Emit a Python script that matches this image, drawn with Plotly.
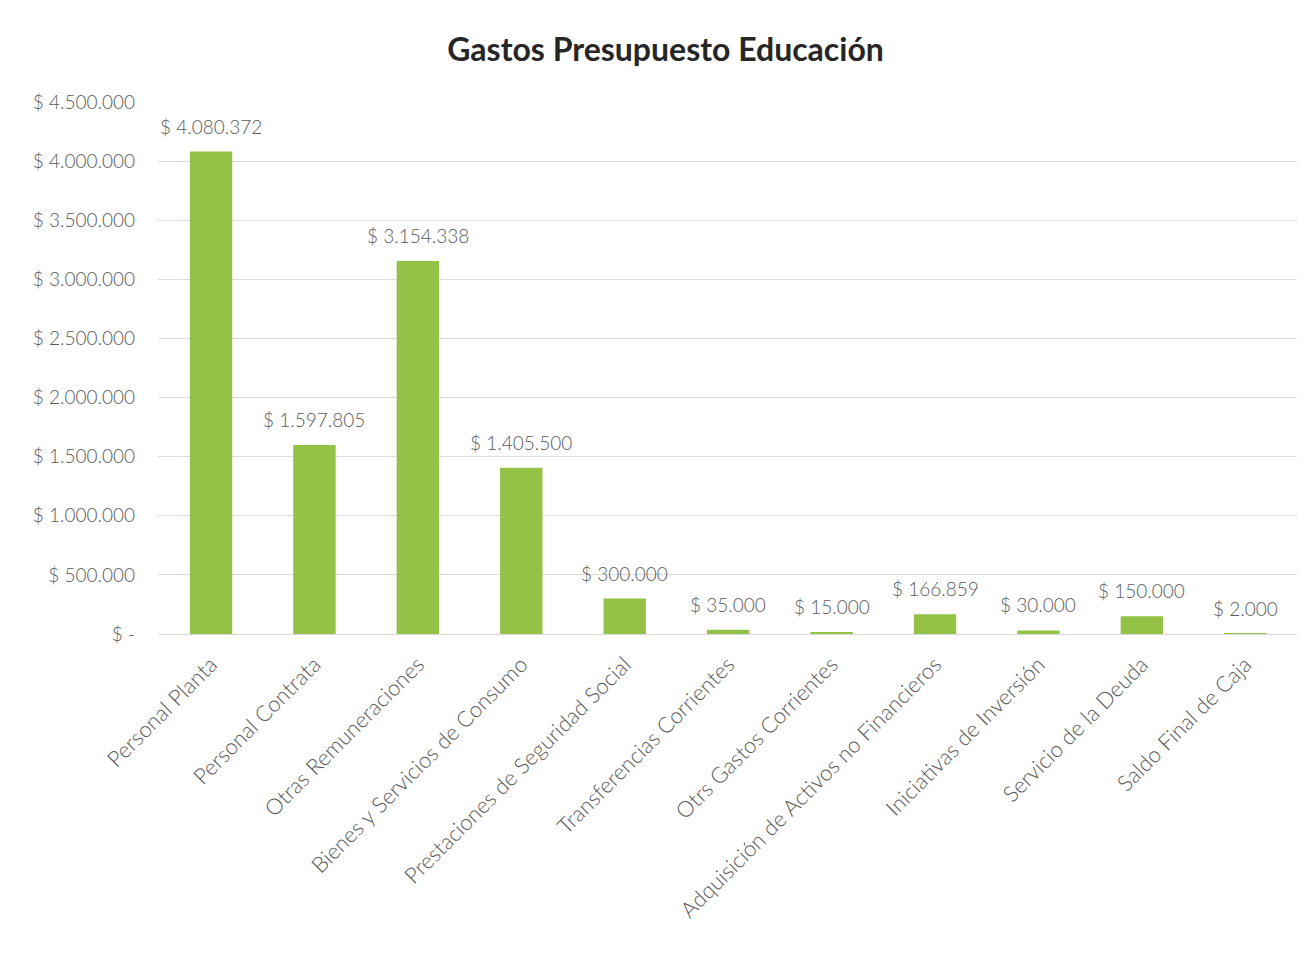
import plotly.graph_objects as go

categories = [
    "Personal Planta", "Personal Contrata", "Otras Remuneraciones",
    "Bienes y Servicios de Consumo", "Prestaciones de Seguridad Social",
    "Transferencias Corrientes", "Otrs Gastos Corrientes",
    "Adquisición de Activos no Financieros", "Iniciativas de Inversión",
    "Servicio de la Deuda", "Saldo Final de Caja",
]
values = [4080372, 1597805, 3154338, 1405500, 300000, 35000, 15000,
          166859, 30000, 150000, 2000]
tick_vals = [0, 500000, 1000000, 1500000, 2000000, 2500000, 3000000,
             3500000, 4000000, 4500000]


def fmt(v):
    if v == 0:
        return "$ -"
    return "$ " + f"{v:,}".replace(",", ".")


tick_text = [fmt(v) for v in tick_vals]
labels = [fmt(v) for v in values]

FONT = "Lato, 'Open Sans', sans-serif"
GREY = "#5a5a5a"

fig = go.Figure(go.Bar(
    x=categories, y=values,
    marker=dict(color="#93c247", line=dict(width=0)),
    cliponaxis=False,
))

for cat, val, lab in zip(categories, values, labels):
    fig.add_annotation(
        x=cat, y=val, text=lab, showarrow=False,
        yanchor="bottom", yshift=12,
        font=dict(size=19, color=GREY, family=FONT, weight=300),
    )

fig.update_layout(
    width=1315, height=953,
    paper_bgcolor="white", plot_bgcolor="white",
    margin=dict(l=150, r=26, t=94, b=327),
    bargap=0.59,
    showlegend=False,
    title=dict(text="<b>Gastos Presupuesto Educación</b>", x=0.5, xref="container",
               y=0.956, yref="container", yanchor="middle",
               font=dict(size=32, color="#262626", family=FONT)),
    font=dict(family=FONT, color=GREY),
)
fig.update_xaxes(
    tickangle=-45, tickfont=dict(size=22, color=GREY, weight=300),
    showline=True, linecolor="#d9d9d9", showgrid=False, ticks="",
    ticklabelstandoff=8,
)
fig.update_yaxes(
    range=[0, 4500000], tickvals=tick_vals, ticktext=tick_text,
    tickfont=dict(size=19, color=GREY, weight=300),
    gridcolor="#dcdcdc", zeroline=False, showline=False,
    ticklabelstandoff=22,
)

fig.write_html("out.html")
